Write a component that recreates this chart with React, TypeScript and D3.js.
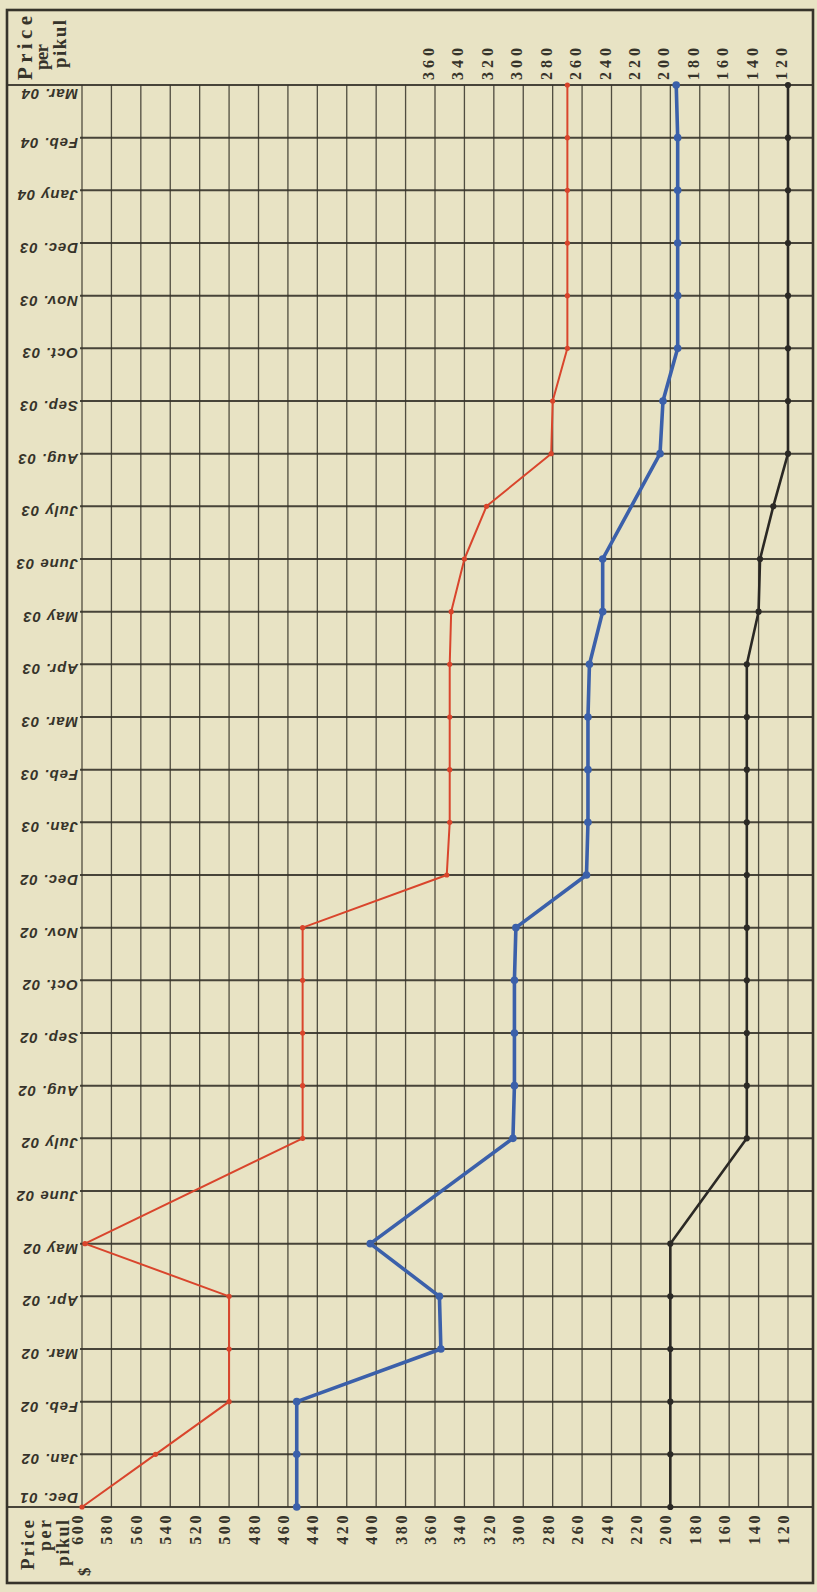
import React from "react";
import * as d3 from "d3";

const months = [
  "Dec. 01", "Jan. 02", "Feb. 02", "Mar. 02", "Apr. 02", "May 02", "June 02",
  "July 02", "Aug. 02", "Sep. 02", "Oct. 02", "Nov. 02", "Dec. 02", "Jan. 03",
  "Feb. 03", "Mar. 03", "Apr. 03", "May 03", "June 03", "July 03", "Aug. 03",
  "Sep. 03", "Oct. 03", "Nov. 03", "Dec. 03", "Jany 04", "Feb. 04", "Mar. 04",
];

const redSeries: (number | null)[] = [
  600, 550, 500, 500, 500, 598, null, 450, 450, 450, 450, 450, 352, 350,
  350, 350, 350, 349, 340, 325, 281, 280, 270, 270, 270, 270, 270, 270,
];

const blueSeries: (number | null)[] = [
  454, 454, 454, 356, 357, 404, null, 307, 306, 306, 306, 305, 257, 256,
  256, 256, 255, 246, 246, null, 207, 205, 195, 195, 195, 195, 195, 196,
];

const blackSeries: (number | null)[] = [
  200, 200, 200, 200, 200, 200, null, 148, 148, 148, 148, 148, 148, 148,
  148, 148, 148, 140, 139, 130, 120, 120, 120, 120, 120, 120, 120, 120,
];

const bottomTicks = [
  600, 580, 560, 540, 520, 500, 480, 460, 440, 420, 400, 380, 360, 340,
  320, 300, 280, 260, 240, 220, 200, 180, 160, 140, 120,
];
const topTicks = [360, 340, 320, 300, 280, 260, 240, 220, 200, 180, 160, 140, 120];

const W = 817;
const H = 1592;
const PAPER = "#e8e3c4";
const INK = "#36332a";

export default function App() {
  const x = d3.scaleLinear().domain([600, 120]).range([82, 788]);
  const y = d3.scaleLinear().domain([0, months.length - 1]).range([1507, 85]);

  const line = d3
    .line<[number, number]>()
    .x((d) => x(d[1]))
    .y((d) => y(d[0]));

  const pts = (s: (number | null)[]) =>
    s.map((v, i) => [i, v] as [number, number | null]).filter((d) => d[1] !== null) as [number, number][];

  const series = [
    { data: redSeries, color: "#d9452c", width: 2, r: 2.6 },
    { data: blueSeries, color: "#3b60aa", width: 3.6, r: 3.8 },
    { data: blackSeries, color: "#2b2925", width: 2.6, r: 3.1 },
  ];

  const serif = "'Liberation Serif', 'DejaVu Serif', serif";
  const labelFont = "'Liberation Sans', 'DejaVu Sans', sans-serif";

  return (
    <div style={{ position: "absolute", left: 0, top: 0 }}>
      <svg width={W} height={H} viewBox={`0 0 ${W} ${H}`} style={{ display: "block" }}>
        <rect x={0} y={0} width={W} height={H} fill={PAPER} />

        {/* vertical grid lines */}
        {bottomTicks.map((t) => (
          <line
            key={"v" + t}
            x1={x(t)}
            x2={x(t)}
            y1={y(months.length - 1)}
            y2={y(0)}
            stroke={INK}
            strokeWidth={1.3}
            opacity={0.85}
          />
        ))}

        {/* horizontal month lines */}
        {months.map((m, i) => (
          <line
            key={"h" + m}
            x1={i === 0 || i === months.length - 1 ? 7 : x(600) - 2}
            x2={813}
            y1={y(i)}
            y2={y(i)}
            stroke={INK}
            strokeWidth={2}
            opacity={0.9}
          />
        ))}

        {/* outer frame */}
        <rect x={7} y={10} width={806} height={1573} fill="none" stroke={INK} strokeWidth={2.6} />

        {/* month labels (upside down) */}
        {months.map((m, i) => {
          const off = i === 0 ? -14 : i === months.length - 1 ? 4 : 0;
          return (
            <text
              key={"m" + m}
              transform={`translate(78, ${y(i) + off}) rotate(180)`}
              fontFamily={labelFont}
              fontStyle="italic"
              fontWeight="bold"
              fontSize={15}
              letterSpacing={0.9}
              fill={INK}
            >
              {m}
            </text>
          );
        })}

        {/* bottom price ticks */}
        {bottomTicks.map((t) => (
          <text
            key={"b" + t}
            transform={`translate(${x(t) + 1}, 1513) rotate(-90)`}
            textAnchor="end"
            fontFamily={serif}
            fontWeight="bold"
            fontSize={16}
            letterSpacing={2.6}
            fill={INK}
          >
            {t}
          </text>
        ))}

        {/* top price ticks */}
        {topTicks.map((t) => (
          <text
            key={"t" + t}
            transform={`translate(${x(t) - 1}, 80) rotate(-90)`}
            textAnchor="start"
            fontFamily={serif}
            fontWeight="bold"
            fontSize={16}
            letterSpacing={4}
            fill={INK}
          >
            {t}
          </text>
        ))}

        {/* axis titles */}
        <g fontFamily={serif} fill={INK} fontWeight="bold">
          <text transform="translate(32, 80) rotate(-90)" fontSize={21} textLength={64} lengthAdjust="spacing">Price</text>
          <text transform="translate(48, 70) rotate(-90)" fontSize={19} textLength={26} lengthAdjust="spacing">per</text>
          <text transform="translate(66, 68) rotate(-90)" fontSize={19} textLength={48} lengthAdjust="spacing">pikul</text>

          <text transform="translate(34, 1520) rotate(-90)" fontSize={19} textAnchor="end" textLength={50} lengthAdjust="spacing">Price</text>
          <text transform="translate(51, 1520) rotate(-90)" fontSize={18} textAnchor="end" textLength={31} lengthAdjust="spacing">per</text>
          <text transform="translate(69, 1520) rotate(-90)" fontSize={18} textAnchor="end" textLength={46} lengthAdjust="spacing">pikul</text>
          <text transform="translate(90, 1576) rotate(-90)" fontSize={17}>$</text>
        </g>

        {/* series */}
        {series.map((s, si) => {
          const p = pts(s.data);
          return (
            <g key={"s" + si}>
              <path d={line(p) || ""} fill="none" stroke={s.color} strokeWidth={s.width} strokeLinejoin="round" />
              {p.map((d) => (
                <circle key={d[0]} cx={x(d[1])} cy={y(d[0])} r={s.r} fill={s.color} />
              ))}
            </g>
          );
        })}
      </svg>
    </div>
  );
}
